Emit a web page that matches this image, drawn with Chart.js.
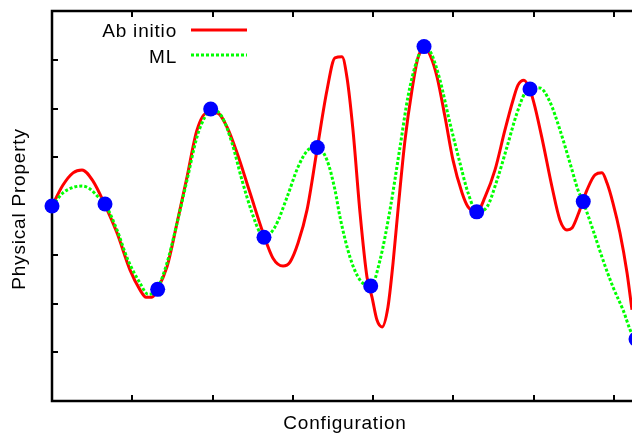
<!DOCTYPE html>
<html>
<head>
<meta charset="utf-8">
<script src="https://cdn.jsdelivr.net/npm/chart.js@4/dist/chart.umd.min.js"></script>
<style>
  html, body { margin: 0; padding: 0; background: #ffffff; }
  canvas { display: block; }
</style>
</head>
<body>
<canvas id="chart" width="632" height="434"></canvas>
<script>
// Reference (ab initio) property along the configuration coordinate
const abInitioX = [0.000, 0.137, 0.262, 0.374, 0.511, 0.660, 0.809, 0.971, 1.096, 1.171,
  1.245, 1.308, 1.432, 1.557, 1.681, 1.806, 1.930, 2.055, 2.179, 2.304,
  2.466, 2.628, 2.752, 2.877, 2.964, 3.064, 3.176, 3.300, 3.425, 3.524,
  3.611, 3.674, 3.748, 3.836, 3.923, 3.985, 4.047, 4.110, 4.184, 4.247,
  4.309, 4.396, 4.483, 4.558, 4.645, 4.707, 4.795, 4.894, 4.994, 5.106,
  5.181, 5.293, 5.392, 5.517, 5.641, 5.741, 5.803, 5.878, 5.953, 6.015,
  6.115, 6.227, 6.326, 6.413, 6.476, 6.550, 6.663, 6.762, 6.849, 6.912,
  6.986, 7.073, 7.161, 7.223, 7.285];
const abInitioY = [4.00, 4.43, 4.68, 4.74, 4.51, 4.02, 3.45, 2.69, 2.28, 2.13,
  2.13, 2.28, 2.75, 3.65, 4.59, 5.56, 5.91, 5.91, 5.62, 5.09,
  4.27, 3.45, 2.93, 2.77, 2.85, 3.24, 3.92, 5.15, 6.38, 7.04,
  7.06, 6.63, 5.56, 3.86, 2.54, 2.13, 1.66, 1.52, 1.93, 2.83,
  3.92, 5.35, 6.38, 7.04, 7.24, 7.10, 6.65, 5.83, 4.94, 4.27,
  3.98, 3.88, 4.18, 4.74, 5.56, 6.17, 6.48, 6.58, 6.38, 6.03,
  5.29, 4.39, 3.71, 3.51, 3.55, 3.82, 4.33, 4.64, 4.68, 4.47,
  4.06, 3.45, 2.63, 1.87, 1.15];

// Machine-learning model prediction
const mlX = [0.000, 0.137, 0.262, 0.374, 0.473, 0.573, 0.660, 0.809, 0.946, 1.096,
  1.196, 1.308, 1.432, 1.557, 1.681, 1.806, 1.905, 1.980, 2.117, 2.242,
  2.366, 2.491, 2.590, 2.640, 2.777, 2.927, 3.064, 3.188, 3.300, 3.425,
  3.524, 3.587, 3.711, 3.836, 3.973, 4.085, 4.209, 4.334, 4.433, 4.545,
  4.633, 4.720, 4.832, 4.956, 5.081, 5.181, 5.293, 5.417, 5.542, 5.666,
  5.791, 5.890, 5.953, 6.077, 6.202, 6.326, 6.451, 6.550, 6.613, 6.737,
  6.862, 6.986, 7.111, 7.223, 7.273];
const mlY = [4.00, 4.27, 4.38, 4.41, 4.35, 4.19, 4.04, 3.51, 2.89, 2.42,
  2.19, 2.30, 2.83, 3.65, 4.53, 5.42, 5.83, 5.99, 5.83, 5.29,
  4.53, 3.86, 3.45, 3.36, 3.57, 4.18, 4.80, 5.15, 5.21, 4.94,
  4.33, 3.77, 2.95, 2.48, 2.36, 2.89, 3.92, 5.21, 6.24, 6.99,
  7.26, 7.14, 6.58, 5.70, 4.88, 4.27, 3.88, 3.98, 4.53, 5.21,
  5.91, 6.32, 6.40, 6.42, 6.13, 5.56, 4.88, 4.33, 4.09, 3.51,
  2.89, 2.34, 1.87, 1.37, 1.27];

// Training configurations
const trainX = [0.000, 0.660, 1.316, 1.976, 2.640, 3.304, 3.969, 4.633, 5.289, 5.953, 6.616, 7.273];
const trainY = [4.00, 4.04, 2.29, 5.99, 3.36, 5.20, 2.36, 7.27, 3.88, 6.40, 4.09, 1.27];

const xTicks = [1, 2, 3, 4, 5, 6, 7];
const yTicks = [1, 2, 3, 4, 5, 6, 7];

const seriesNames = ['Ab initio', 'ML'];
const xTitle = 'Configuration';
const yTitle = 'Physical Property';

const FONT = '19px "Liberation Sans", Arial, Helvetica, sans-serif';
const zip = (xs, ys) => xs.map((x, i) => ({ x: x, y: ys[i] }));

// Box on left, top and bottom with inward tick marks
const framePlugin = {
  id: 'frame',
  beforeDatasetsDraw(chart) {
    const { ctx, chartArea: a, scales } = chart;
    const xs = scales.x, ys = scales.y;
    ctx.save();
    ctx.strokeStyle = '#000000';
    ctx.lineWidth = 2.5;
    ctx.lineCap = 'butt';
    ctx.beginPath();
    ctx.moveTo(chart.width + 2, a.top);
    ctx.lineTo(a.left, a.top);
    ctx.lineTo(a.left, a.bottom);
    ctx.lineTo(chart.width + 2, a.bottom);
    ctx.stroke();
    ctx.lineWidth = 2;
    const len = 6;
    ctx.beginPath();
    xTicks.forEach(v => {
      const px = Math.round(xs.getPixelForValue(v));
      ctx.moveTo(px, a.bottom);
      ctx.lineTo(px, a.bottom - len);
      ctx.moveTo(px, a.top);
      ctx.lineTo(px, a.top + len);
    });
    yTicks.forEach(v => {
      const py = Math.round(ys.getPixelForValue(v));
      ctx.moveTo(a.left, py);
      ctx.lineTo(a.left + len, py);
    });
    ctx.stroke();
    ctx.restore();
  },
  afterDraw(chart) {
    const { ctx } = chart;
    ctx.save();
    ctx.fillStyle = '#000000';
    ctx.font = FONT;
    if ('letterSpacing' in ctx) ctx.letterSpacing = '0.8px';

    // axis titles
    ctx.textAlign = 'center';
    ctx.textBaseline = 'alphabetic';
    ctx.fillText(xTitle, 345, 429);
    ctx.save();
    ctx.translate(25, 209);
    ctx.rotate(-Math.PI / 2);
    ctx.fillText(yTitle, 0, 0);
    ctx.restore();

    // legend: label, then line sample
    const ds = chart.data.datasets;
    const rows = [
      { label: seriesNames[0], ds: ds[2], base: 36.5, ly: 30 },
      { label: seriesNames[1], ds: ds[1], base: 63, ly: 55 }
    ];
    rows.forEach(r => {
      ctx.textAlign = 'right';
      ctx.fillText(r.label, 177, r.base);
      ctx.save();
      ctx.strokeStyle = r.ds.borderColor;
      ctx.lineWidth = r.ds.borderWidth;
      ctx.setLineDash(r.ds.borderDash || []);
      ctx.beginPath();
      ctx.moveTo(191, r.ly);
      ctx.lineTo(247, r.ly);
      ctx.stroke();
      ctx.restore();
    });
    ctx.restore();
  }
};

new Chart(document.getElementById('chart'), {
  type: 'line',
  data: {
    datasets: [
      {
        label: 'training',
        data: zip(trainX, trainY),
        showLine: false,
        pointRadius: 7.5,
        pointHoverRadius: 7.5,
        pointBackgroundColor: '#0000ff',
        pointBorderWidth: 0,
        borderColor: '#0000ff',
        clip: false,
        order: 0
      },
      {
        label: seriesNames[1],
        data: zip(mlX, mlY),
        borderColor: '#00ff00',
        borderWidth: 3,
        borderDash: [3, 2],
        cubicInterpolationMode: 'monotone',
        pointRadius: 0,
        fill: false,
        order: 1
      },
      {
        label: seriesNames[0],
        data: zip(abInitioX, abInitioY),
        borderColor: '#ff0000',
        borderWidth: 3,
        cubicInterpolationMode: 'monotone',
        pointRadius: 0,
        fill: false,
        order: 2
      }
    ]
  },
  options: {
    responsive: false,
    animation: false,
    devicePixelRatio: 1,
    layout: { autoPadding: false, padding: { left: 52, top: 11, right: 0, bottom: 33 } },
    plugins: { legend: { display: false }, tooltip: { enabled: false } },
    events: [],
    scales: {
      x: { type: 'linear', min: 0, max: 7.223, display: false },
      y: { type: 'linear', min: 0, max: 8, display: false }
    }
  },
  plugins: [framePlugin]
});
</script>
</body>
</html>
